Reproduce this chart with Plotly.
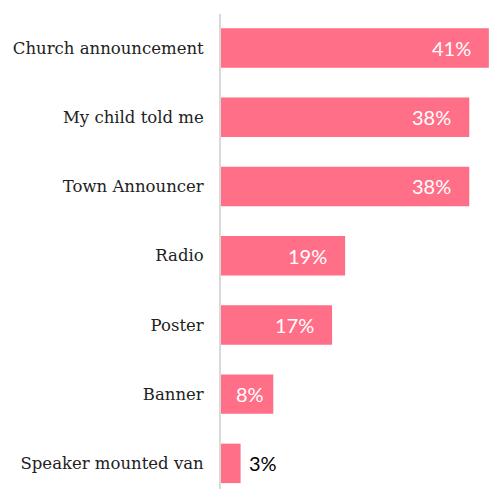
import plotly.graph_objects as go

# Survey: how respondents heard about the event
categories = [
    "Church announcement",
    "My child told me",
    "Town Announcer",
    "Radio",
    "Poster",
    "Banner",
    "Speaker mounted van",
]
percent = [41, 38, 38, 19, 17, 8, 3]

BAR_COLOR = "#FF6F87"
LABEL_FONT = "Lato"
CAT_FONT = "DejaVu Serif"

fig = go.Figure(
    go.Bar(
        x=percent,
        y=categories,
        orientation="h",
        marker=dict(color=BAR_COLOR, line=dict(width=0)),
        hoverinfo="skip",
    )
)

# Value labels: inside the end of long bars, centred on short ones,
# and just past the end of the tiniest bar
annotations = []
for cat, v in zip(categories, percent):
    text = f"{v}%"
    if v >= 10:
        annotations.append(dict(x=v, y=cat, text=text, xanchor="right", xshift=-16,
                                showarrow=False,
                                font=dict(family=LABEL_FONT, size=20, color="white")))
    elif v >= 5:
        annotations.append(dict(x=v / 2, y=cat, text=text, xanchor="center", xshift=3,
                                showarrow=False,
                                font=dict(family=LABEL_FONT, size=20, color="white")))
    else:
        annotations.append(dict(x=v, y=cat, text=text, xanchor="left", xshift=6,
                                showarrow=False,
                                font=dict(family=LABEL_FONT, size=20, color="black")))

fig.update_layout(
    width=489,
    height=489,
    margin=dict(l=221, r=0, t=14, b=0),
    paper_bgcolor="white",
    plot_bgcolor="white",
    bargap=0.43,
    showlegend=False,
    annotations=annotations,
    xaxis=dict(range=[0, 41.02], visible=False, fixedrange=True),
    yaxis=dict(
        range=[6.37, -0.49],
        showline=True,
        linecolor="#D9D9D9",
        linewidth=2,
        showgrid=False,
        zeroline=False,
        ticks="",
        ticklabelstandoff=12,
        tickfont=dict(family=CAT_FONT, size=16.5, color="#222222"),
        fixedrange=True,
    ),
)

fig.write_html("out.html")
